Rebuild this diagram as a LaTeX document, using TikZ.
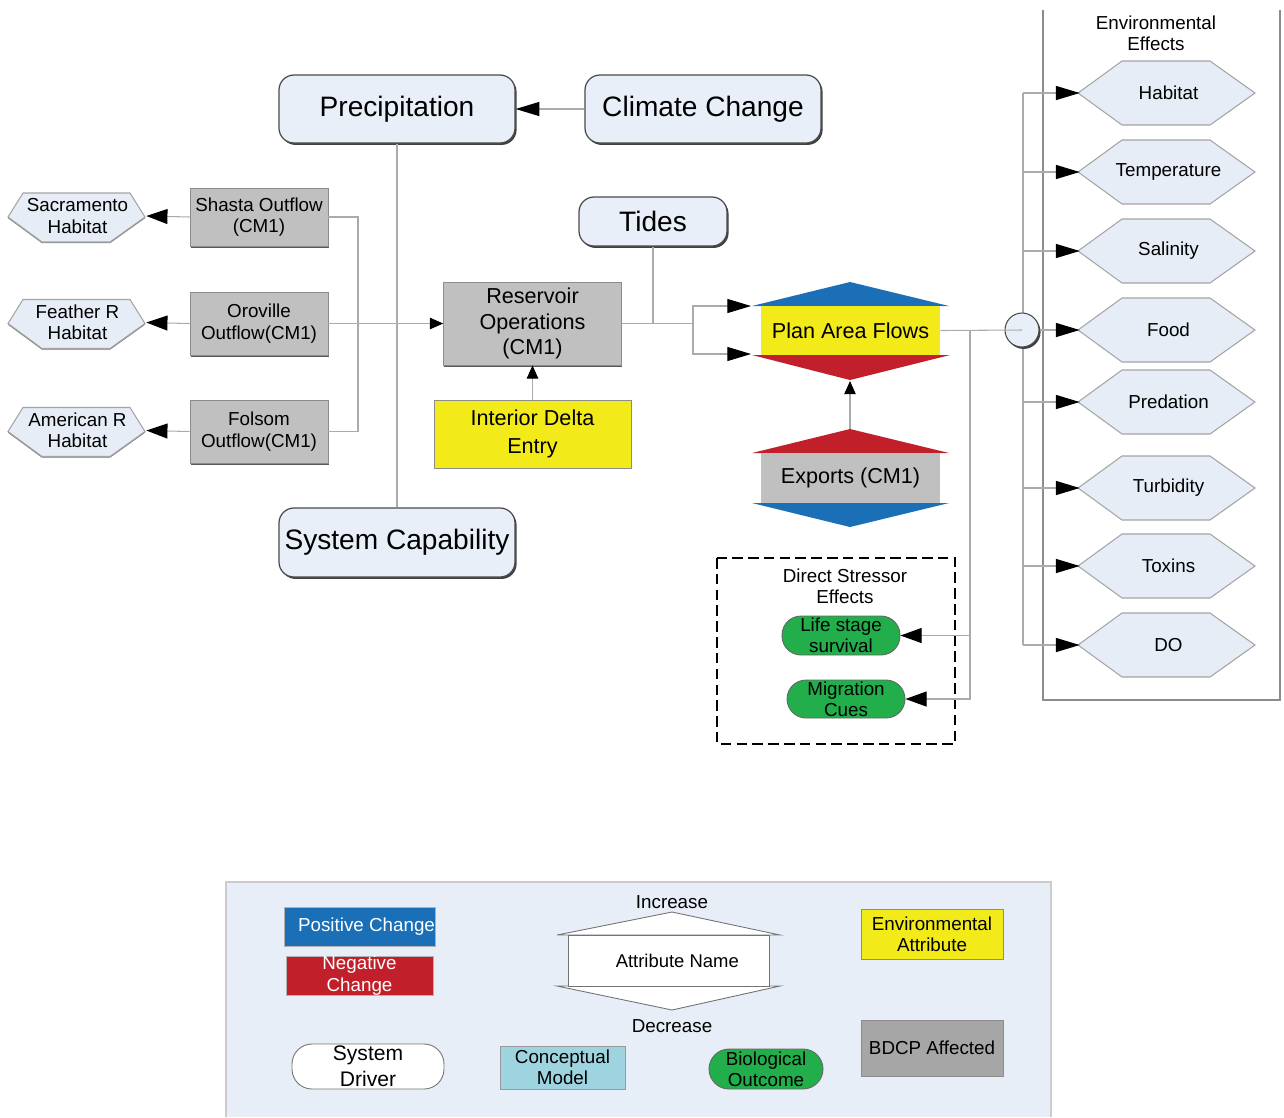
\documentclass[tikz,border=0pt]{standalone}
\usepackage{fontspec}
\setmainfont{Liberation Sans}
\usetikzlibrary{arrows.meta,shadows}

\definecolor{drvfill}{HTML}{E9EFF9}
\definecolor{drvline}{HTML}{4A4A4A}
\definecolor{cmgrey}{HTML}{C0C0C0}
\definecolor{envyellow}{HTML}{F3EA1A}
\definecolor{posblue}{HTML}{1A6FB7}
\definecolor{negred}{HTML}{C1202A}
\definecolor{biogreen}{HTML}{22AE4B}
\definecolor{hexfill}{HTML}{E6EDF7}
\definecolor{hexline}{HTML}{A4A4A4}
\definecolor{wirecol}{HTML}{ABABAB}
\definecolor{legbg}{HTML}{E8EEF8}
\definecolor{legline}{HTML}{CCCCCC}
\definecolor{cmblue}{HTML}{9ED4DF}
\definecolor{bdcpgrey}{HTML}{A6A6A6}

\tikzset{
  every node/.style={inner sep=0pt, align=center},
  sz/.style 2 args={minimum width=#1*0.02cm, minimum height=#2*0.02cm},
  fbig/.style={font=\fontsize{16}{19}\selectfont},
  fmid/.style={font=\fontsize{12.3}{14.7}\selectfont},
  fsmall/.style={font=\fontsize{10.7}{12.2}\selectfont},
  shade/.style={drop shadow={shadow xshift=0.9pt, shadow yshift=-1.1pt, opacity=1, fill=black!75}},
  driver/.style={rectangle, rounded corners=0.3cm, draw=drvline, fill=drvfill, line width=0.7pt, fbig, shade},
  cmbox/.style={rectangle, draw=black!45, fill=cmgrey, line width=0.4pt, drop shadow={shadow xshift=0.3pt, shadow yshift=-0.9pt, opacity=1, fill=black!65}},
  envbox/.style={rectangle, draw=black!45, fill=envyellow, line width=0.4pt, drop shadow={shadow xshift=0.3pt, shadow yshift=-0.7pt, opacity=1, fill=black!55}},
  outcome/.style={rectangle, rounded corners=0.38cm, draw=black!60, fill=biogreen, line width=0.5pt, fsmall},
  hexshape/.style={draw=hexline, fill=hexfill, line width=0.6pt},
  wire/.style={draw=wirecol, line width=0.6pt},
  bigtip/.style={-{Triangle[length=13.5pt,width=8pt,color=black]}},
  midtip/.style={-{Triangle[length=12pt,width=8.5pt,color=black]}},
  smalltip/.style={-{Triangle[length=7.5pt,width=6.5pt,color=black]}},
}

\begin{document}
\begin{tikzpicture}[x=0.02cm, y=-0.02cm]
\useasboundingbox (0,0) rectangle (1284,1117);

% ---------- system drivers ----------
\node[driver, sz={236}{68}] (pr) at (397,109) {Precipitation};
\node[driver, sz={236}{68}] (cc) at (703,109) {Climate Change};
\node[driver, sz={148}{49}] (td) at (653,221.5) {Tides};
\node[driver, sz={236}{69}] (sc) at (397,542.5) {System Capability};

\draw[wire, bigtip] (cc.west) -- (pr.east);
\draw[wire] (pr.south) -- (sc.north);

% ---------- reservoir operations ----------
\node[cmbox, fmid, sz={178}{83}] (ro) at (532.5,323.5) {Reservoir\\Operations\\(CM1)};
\node[envbox, sz={197}{68}, font=\fontsize{12.3}{15.8}\selectfont] (ide) at (532.5,434) {Interior Delta\\Entry};
\draw[wire, smalltip] (ide.north) -- (ro.south);

% ---------- upstream outflows ----------
\node[cmbox, fsmall, sz={138}{58}] (sh) at (259,217) {Shasta Outflow\\(CM1)};
\node[cmbox, fsmall, sz={138}{63}] (ov) at (259,323.5) {Oroville\\Outflow(CM1)};
\node[cmbox, fsmall, sz={138}{63}] (fo) at (259,431.5) {Folsom\\Outflow(CM1)};

\coordinate (lbus) at (358,323.5);
\draw[wire] (sh.east) -| (lbus);
\draw[wire] (fo.east) -| (lbus);
\draw[wire, smalltip] (ov.east) -- (ro.west);

% river habitats
\foreach \n/\yy/\t in {hs/217/{Sacramento\\Habitat}, hf/323.5/{Feather R\\Habitat}, ha/431.5/{American R\\Habitat}}{
  \draw[hexshape, drop shadow={shadow xshift=0pt, shadow yshift=-0.7pt, opacity=1, fill=black!55}]
    (8,\yy) -- (23,\yy-24) -- (130,\yy-24) -- (145,\yy) -- (110,\yy+25) -- (42,\yy+25) -- cycle;
  \node[fsmall, sz={137}{49}] (\n) at (77.5,\yy-1) {\t};
}
\draw[wire, midtip] (sh.west) -- (hs.east);
\draw[wire, midtip] (ov.west) -- (hf.east);
\draw[wire, midtip] (fo.west) -- (ha.east);

% ---------- plan area flows ----------
\fill[posblue] (752,306) -- (850,282) -- (949,306) -- cycle;
\fill[negred] (752,355) -- (950,355) -- (850,380) -- cycle;
\node[rectangle, fill=envyellow, fmid, sz={179}{49}] (paf) at (850.5,330.5) {Plan Area Flows};
\coordinate (paful) at (751,306);
\coordinate (pafll) at (751,354);
\coordinate (pafbot) at (850,381);

\coordinate (split) at (693,323.5);
\draw[wire] (ro.east) -- (split);
\draw[wire] (td.south) -- (td.south |- split);
\draw[wire, bigtip] (split) |- (paful);
\draw[wire, bigtip] (split) |- (pafll);

% ---------- exports ----------
\fill[negred] (752,453) -- (850,429) -- (949,453) -- cycle;
\fill[posblue] (752,503) -- (949,503) -- (850,527) -- cycle;
\node[rectangle, fill=cmgrey, fmid, sz={179}{50}] (ex) at (850.5,478) {Exports (CM1)};
\coordinate (extop) at (850,429);
\draw[wire, smalltip] (extop) -- (pafbot);

% ---------- environmental effects ----------
\draw[draw=black!45, line width=0.6pt] (1043,10) -- (1043,700) -- (1280,700) -- (1280,10);
\node[fsmall] (eeh) at (1156,33.5) {Environmental\\Effects};

\foreach \n/\yy/\t in {e1/93/Habitat, e2/172/Temperature, e3/251/Salinity, e4/330/Food,
                       e5/402/Predation, e6/488/Turbidity, e7/566/Toxins, e8/645/DO}{
  \draw[hexshape] (1078,\yy) -- (1122,\yy-32) -- (1210,\yy-32) -- (1255,\yy) -- (1210,\yy+32) -- (1122,\yy+32) -- cycle;
  \node[fsmall, sz={177}{64}] (\n) at (1168.5,\yy) {\t};
}

\coordinate (bustop) at (1023,93);
\coordinate (busbot) at (1023,645);
\draw[wire] (bustop) -- (busbot);
\foreach \n in {e1,e2,e3,e5,e6,e7,e8}
  \draw[wire, bigtip] (bustop |- \n.west) -- (\n.west);

\node[circle, draw=drvline, fill=drvfill, line width=0.6pt, minimum size=34*0.02cm, shade] (hub) at (1022,330) {};
\draw[wire] (paf.east) -- (hub.center);
\draw[wire, bigtip] (hub.east) -- (e4.west);

% ---------- direct stressor effects ----------
\draw[line width=1.1pt, dash pattern=on 6pt off 3pt] (717,558) rectangle (955,744);
\node[fsmall] (dsh) at (845,586) {Direct Stressor\\Effects};
\node[outcome, sz={118}{39}] (ls) at (841,635.5) {Life stage\\survival};
\node[outcome, sz={118}{38}] (mc) at (846,699) {Migration\\Cues};

\coordinate (dsx) at (970,330.5);
\draw[wire, midtip] (dsx) |- (ls.east);
\draw[wire, midtip] (dsx) |- (mc.east);

% ---------- legend ----------
\fill[legbg] (226,882) rectangle (1051,1117);
\draw[legline, line width=0.6pt] (226,1117) -- (226,882) -- (1051,882) -- (1051,1117);

\node[rectangle, fill=posblue, draw=black!30, line width=0.3pt, sz={147}{39}, fsmall, text=white] (lpos) at (359.5,926.5) {\hspace*{8pt}Positive Change};
\node[rectangle, fill=negred, draw=black!30, line width=0.3pt, sz={147}{39}, fsmall, text=white] (lneg) at (359.5,975.5) {Negative\\Change};

\draw[draw=black!55, fill=white, line width=0.5pt] (557,935) -- (672,912) -- (780,935) -- cycle;
\draw[draw=black!55, fill=white, line width=0.5pt] (557,986) -- (780,986) -- (672,1010) -- cycle;
\node[rectangle, draw=black!55, fill=white, line width=0.5pt, sz={201}{51}, font=\fontsize{10.5}{12}\selectfont] (lattr) at (668.5,960.5) {\hspace*{10pt}Attribute Name};
\node[fsmall] (linc) at (672,902) {Increase};
\node[fsmall] (ldec) at (672,1026) {Decrease};

\node[envbox, sz={142}{50}, fsmall] (lenv) at (932,934) {Environmental\\Attribute};
\node[rectangle, fill=bdcpgrey, draw=black!45, line width=0.4pt, sz={142}{56}, fsmall] (lbdcp) at (932,1048) {BDCP Affected};
\node[rectangle, rounded corners=0.4cm, draw=black!55, fill=white, line width=0.5pt, sz={152}{45}, font=\fontsize{12}{14.7}\selectfont] (ldrv) at (368,1066.5) {System\\Driver};
\node[rectangle, draw=black!40, fill=cmblue, line width=0.4pt, sz={125}{43}, fsmall] (lcm) at (562.5,1067.5) {Conceptual\\Model};
\node[outcome, sz={114}{40}, rounded corners=0.4cm] (lbio) at (766,1069) {Biological\\Outcome};

\end{tikzpicture}
\end{document}
